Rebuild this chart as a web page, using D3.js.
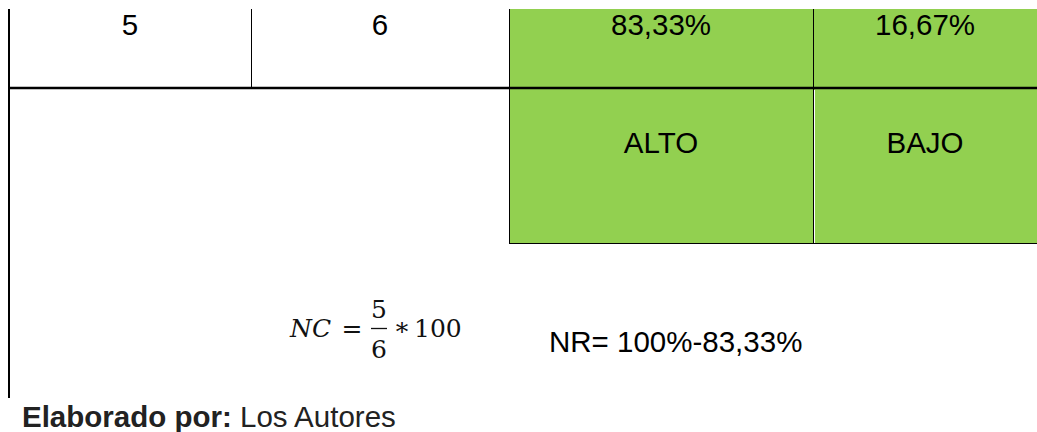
<!DOCTYPE html>
<html>
<head>
<meta charset="utf-8">
<script src="https://d3js.org/d3.v7.min.js"></script>
<style>
  body { margin: 0; background: #fff; }
  text { font-family: "Liberation Sans", Arial, sans-serif; fill: #000; }
  text.math { font-family: "DejaVu Serif", "Liberation Serif", serif; fill: #111; }
</style>
</head>
<body>
<div id="tabla"></div>
<script>
// datos de la tabla
var counts = ["5", "6"];
var percents = ["83,33%", "16,67%"];
var levels = ["ALTO", "BAJO"];
var nrText = "NR= 100%-83,33%";
var source = ["Elaborado por:", " Los Autores"];

var width = 1037, height = 432;
var green = "#92d050";
var fs = 29.5;

var svg = d3.select("#tabla").append("svg")
  .attr("width", width)
  .attr("height", height);

// bordes de columnas y filas
var cols = d3.scaleOrdinal().domain([0, 1, 2, 3, 4]).range([9, 251, 509, 813, 1037]);
var rows = d3.scaleOrdinal().domain([0, 1, 2]).range([9, 88, 243]);

// celdas verdes
var greenCells = [];
[0, 1].forEach(function(r){
  [2, 3].forEach(function(c){ greenCells.push({r: r, c: c}); });
});
svg.selectAll("rect.cell").data(greenCells).enter().append("rect")
  .attr("class", "cell")
  .attr("x", function(d){ return cols(d.c); })
  .attr("y", function(d){ return rows(d.r); })
  .attr("width", function(d){ return cols(d.c + 1) - cols(d.c); })
  .attr("height", function(d){ return rows(d.r + 1) - rows(d.r); })
  .attr("fill", green);

// lineas
svg.append("line") // borde izquierdo
  .attr("x1", cols(0)).attr("x2", cols(0))
  .attr("y1", rows(0)).attr("y2", 398)
  .attr("stroke", "#000").attr("stroke-width", 2);
svg.append("line")
  .attr("x1", cols(1) + 0.5).attr("x2", cols(1) + 0.5)
  .attr("y1", rows(0)).attr("y2", rows(1))
  .attr("stroke", "#000").attr("stroke-width", 1);
svg.append("line")
  .attr("x1", cols(2) + 0.5).attr("x2", cols(2) + 0.5)
  .attr("y1", rows(0)).attr("y2", rows(2))
  .attr("stroke", "#000").attr("stroke-width", 1);
svg.append("line")
  .attr("x1", cols(3) + 0.5).attr("x2", cols(3) + 0.5)
  .attr("y1", rows(0)).attr("y2", rows(2))
  .attr("stroke", "#000").attr("stroke-width", 1);
svg.append("line")
  .attr("x1", cols(3) + 1.5).attr("x2", cols(3) + 1.5)
  .attr("y1", rows(1) + 2).attr("y2", rows(2))
  .attr("stroke", "#fff").attr("stroke-width", 1);
svg.append("line") // linea horizontal gruesa
  .attr("x1", cols(0)).attr("x2", width)
  .attr("y1", rows(1)).attr("y2", rows(1))
  .attr("stroke", "#000").attr("stroke-width", 2.5);
svg.append("line")
  .attr("x1", cols(2)).attr("x2", width)
  .attr("y1", rows(2) + 0.5).attr("y2", rows(2) + 0.5)
  .attr("stroke", "#000").attr("stroke-width", 1);

function center(c){ return (cols(c) + cols(c + 1)) / 2; }

// fila superior
var topRow = counts.concat(percents);
svg.selectAll("text.top").data(topRow).enter().append("text")
  .attr("class", "top")
  .attr("x", function(d, i){ return center(i); })
  .attr("y", 35)
  .attr("text-anchor", "middle")
  .attr("font-size", fs)
  .text(function(d){ return d; });

svg.selectAll("text.lvl").data(levels).enter().append("text")
  .attr("class", "lvl")
  .attr("x", function(d, i){ return center(i + 2); })
  .attr("y", 153)
  .attr("text-anchor", "middle")
  .attr("font-size", fs)
  .text(function(d){ return d; });

// formula NC
var mfs = 25;
var f = svg.append("g");
f.append("text").attr("class", "math").attr("x", 290).attr("y", 337)
  .attr("font-size", mfs).attr("font-style", "italic").text("NC");
f.append("text").attr("class", "math").attr("x", 352).attr("y", 337)
  .attr("text-anchor", "middle").attr("font-size", mfs).text("=");
f.append("text").attr("class", "math").attr("x", 379).attr("y", 318)
  .attr("text-anchor", "middle").attr("font-size", mfs).text("5");
f.append("line").attr("x1", 371).attr("x2", 387).attr("y1", 328.5).attr("y2", 328.5)
  .attr("stroke", "#111").attr("stroke-width", 1.3);
f.append("text").attr("class", "math").attr("x", 379).attr("y", 358)
  .attr("text-anchor", "middle").attr("font-size", mfs).text("6");
f.append("text").attr("class", "math").attr("x", 402).attr("y", 340)
  .attr("text-anchor", "middle").attr("font-size", mfs).text("*");
f.append("text").attr("class", "math").attr("x", 414).attr("y", 337)
  .attr("font-size", mfs).text("100");

svg.append("text")
  .attr("x", 549).attr("y", 352)
  .attr("font-size", fs)
  .text(nrText);

var src = svg.append("text").attr("x", 22).attr("y", 427).attr("font-size", fs).style("fill", "#222");
src.append("tspan").attr("font-weight", "bold").text(source[0]);
src.append("tspan").text(source[1]);
</script>
</body>
</html>
